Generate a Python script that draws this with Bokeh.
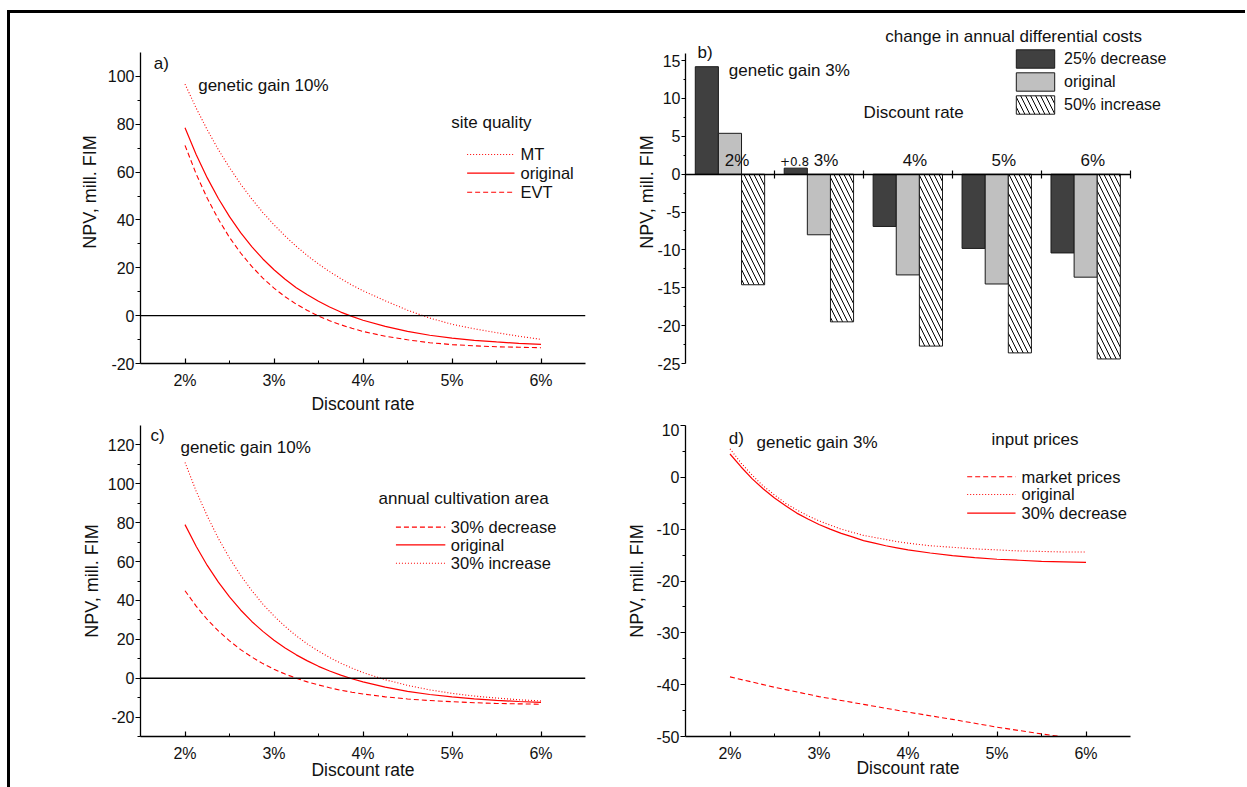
import numpy as np
from bokeh.plotting import figure
from bokeh.models import (Range1d, FixedTicker, Span, Label, Legend, LegendItem,
                          Div, Spacer)
from bokeh.layouts import row, column
from bokeh.embed import file_html
from bokeh.resources import INLINE
from bokeh.core.properties import value

FONT = "Liberation Sans"
RED = "#ff0000"
INK = "#111111"

# ---------------- data ----------------
rates = [2.0, 2.125, 2.25, 2.375, 2.5, 2.625, 2.75, 2.875, 3.0, 3.125, 3.25,
         3.375, 3.5, 3.625, 3.75, 3.875, 4.0, 4.25, 4.5, 4.75, 5.0, 5.25,
         5.5, 5.75, 6.0]
rates_coarse = [2.0, 2.5, 3.0, 3.5, 4.0, 4.5, 5.0, 5.5, 6.0]
rate_ticks = [2, 3, 4, 5, 6]
rate_labels = ["2%", "3%", "4%", "5%", "6%"]

# a) site quality, genetic gain 10%
a_mt = [96.8, 86.8, 77.7, 69.4, 61.9, 55.0, 48.8, 43.1, 38.0, 33.3, 29.0,
        25.1, 21.6, 18.4, 15.5, 12.8, 10.4, 6.2, 2.3, -1.0, -3.6, -5.5,
        -7.1, -8.6, -9.9]
a_original = [78.6, 67.4, 57.6, 49.0, 41.4, 34.7, 28.9, 23.7, 19.2, 15.2,
              11.7, 8.7, 6.0, 3.6, 1.5, -0.3, -1.9, -4.5, -6.6, -8.2, -9.4,
              -10.3, -11.0, -11.6, -12.0]
a_evt = [71.2, 59.3, 49.1, 40.3, 32.7, 26.2, 20.6, 15.7, 11.5, 7.9, 4.8, 2.2,
         -0.2, -2.1, -3.8, -5.3, -6.6, -8.6, -10.1, -11.3, -12.1, -12.6,
         -13.0, -13.2, -13.4]
a_series_labels = ["MT", "original", "EVT"]

# b) change in annual differential costs, genetic gain 3%
b_categories = ["2%", "3%", "4%", "5%", "6%"]
b_decrease25 = [14.2, 0.8, -6.9, -9.8, -10.4]
b_original = [5.4, -8.0, -13.3, -14.5, -13.6]
b_increase50 = [-14.6, -19.5, -22.7, -23.6, -24.4]
b_series_labels = ["25% decrease", "original", "50% increase"]

# c) annual cultivation area, genetic gain 10%
c_decrease30 = [45.0, 37.1, 30.2, 24.3, 19.2, 14.7, 10.9, 7.5, 4.6, 2.1, 0.0,
                -1.9, -3.5, -4.9, -6.2, -7.2, -8.1, -9.6, -10.7, -11.5,
                -12.1, -12.6, -13.0, -13.2, -13.4]
c_original = [79.0, 67.9, 58.0, 49.4, 41.8, 35.1, 29.2, 24.1, 19.5, 15.5,
              12.0, 8.9, 6.1, 3.7, 1.6, -0.3, -1.9, -4.6, -6.8, -8.4, -9.6,
              -10.6, -11.4, -12.0, -12.4]
c_increase30 = [111.0, 96.3, 83.4, 71.9, 61.8, 52.9, 45.1, 38.1, 32.0, 26.6,
                21.8, 17.6, 13.9, 10.6, 7.7, 5.2, 2.9, -0.8, -3.7, -6.0, -7.8,
                -9.2, -10.2, -11.1, -11.7]
c_series_labels = ["30% decrease", "original", "30% increase"]

# d) input prices, genetic gain 3%
d_market = [-38.5, -40.5, -42.3, -43.8, -45.3, -46.7, -48.2, -49.5, -50.7]
d_original = [5.5, 2.75, 0.4, -1.7, -3.4, -5.0, -6.3, -7.4, -8.4, -9.2,
              -10.0, -10.6, -11.2, -11.6, -12.0, -12.4, -12.7, -13.2, -13.5,
              -13.8, -14.0, -14.2, -14.3, -14.4, -14.4]
d_decrease30 = [4.5, 2.0, -0.3, -2.25, -4.0, -5.5, -6.9, -8.05, -9.1, -10.0,
                -10.8, -11.5, -12.2, -12.7, -13.2, -13.6, -14.0, -14.6, -15.1,
                -15.5, -15.8, -16.0, -16.2, -16.3, -16.4]
d_series_labels = ["market prices", "original", " 30% decrease"]

a_yticks = [-20, 0, 20, 40, 60, 80, 100]
b_yticks = [-25, -20, -15, -10, -5, 0, 5, 10, 15]
c_yticks = [-20, 0, 20, 40, 60, 80, 100, 120]
d_yticks = [-50, -40, -30, -20, -10, 0, 10]

YLABEL = "NPV, mill. FIM"
XLABEL = "Discount rate"

# ---------------- styles ----------------
SOLID = dict(line_color=RED, line_width=1.2)
DOTTED = dict(line_color=RED, line_width=1.1, line_dash="1 2")
DASHED = dict(line_color=RED, line_width=1.1, line_dash="5 3")


def make_fig(w, h, left, right, top, bottom, xr, yr):
    p = figure(width=w, height=h, x_range=Range1d(*xr), y_range=Range1d(*yr),
               output_backend="svg", toolbar_location=None, title=None,
               min_border_left=left, min_border_right=right,
               min_border_top=top, min_border_bottom=bottom)
    p.grid.visible = False
    p.outline_line_color = None
    p.background_fill_color = "white"
    p.border_fill_color = "white"
    for ax in p.axis:
        ax.axis_line_color = "black"
        ax.axis_line_width = 1.3
        ax.major_tick_line_color = "black"
        ax.minor_tick_line_color = "black"
        ax.major_tick_line_width = 1.2
        ax.major_label_text_font = FONT
        ax.major_label_text_font_size = "16px"
        ax.major_label_text_color = INK
        ax.axis_label_text_font = FONT
        ax.axis_label_text_font_style = "normal"
        ax.axis_label_text_color = INK
    return p


def style_y(p, ticks, minor, label_standoff, bounds=None):
    y = p.yaxis[0]
    y.ticker = FixedTicker(ticks=ticks, minor_ticks=minor)
    y.major_label_overrides = {t: str(t) for t in ticks}
    y.major_tick_in = 0
    y.major_tick_out = 5
    y.minor_tick_in = 0
    y.minor_tick_out = 3
    y.major_label_standoff = 1
    y.axis_label = YLABEL
    y.axis_label_text_font_size = "18px"
    y.axis_label_standoff = label_standoff
    if bounds is not None:
        y.bounds = bounds


def style_x_rates(p, label_standoff):
    x = p.xaxis[0]
    minor = [t + 0.5 for t in rate_ticks[:-1]]
    x.ticker = FixedTicker(ticks=rate_ticks, minor_ticks=minor)
    x.major_label_overrides = dict(zip(rate_ticks, rate_labels))
    x.major_tick_in = 5
    x.major_tick_out = 0
    x.minor_tick_in = 3
    x.minor_tick_out = 0
    x.major_label_standoff = 8
    x.axis_label = XLABEL
    x.axis_label_text_font_size = "17.5px"
    x.axis_label_standoff = label_standoff


def add_text(p, x, y, text, size="17px"):
    p.add_layout(Label(x=x, y=y, text=text, text_font=FONT,
                       text_font_size=size, text_color=INK,
                       text_baseline="middle", text_align="left"))


def key_legend(p, labels, styles, key_x0, key_x1, label_x, row_ys):
    """Legend drawn as short sample lines with labels beside them."""
    for lab, st, y in zip(labels, styles, row_ys):
        p.segment(x0=[key_x0], y0=[y], x1=[key_x1], y1=[y], **st)
        add_text(p, label_x, y, lab, size="16.5px")


zero_line = dict(location=0, dimension="width", line_color="black",
                 line_width=1.4)

ROW1_H = 410
ROW2_H = 364

# ---------------- panel a ----------------
pa = make_fig(610, ROW1_H, 130, 35, 7, 60, (1.5, 6.5), (-20, 123.4))
style_y(pa, a_yticks, [t + 10 for t in a_yticks[:-1]], 5, bounds=(-20, 110))
style_x_rates(pa, 2)
pa.add_layout(Span(**zero_line))
pa.line(rates, a_mt, **DOTTED)
pa.line(rates, a_original, **SOLID)
pa.line(rates, a_evt, **DASHED)
add_text(pa, 1.65, 105.4, "a)")
add_text(pa, 2.148, 96.2, "genetic gain 10%")
add_text(pa, 4.992, 80.75, "site quality")
key_legend(pa, a_series_labels, [DOTTED, SOLID, DASHED],
           5.170, 5.702, 5.770, [67.4, 59.6, 51.6])

# ---------------- panel b ----------------
pb = make_fig(625, ROW1_H, 65, 62, 7, 60, (0, 5.6), (-25, 20.3))
style_y(pb, b_yticks, [t + 2.5 for t in b_yticks[:-1]], -3, bounds=(-25, 16))
pb.yaxis[0].major_tick_out = 4
pb.yaxis[0].minor_tick_out = 2
bx = pb.xaxis[0]
bx.fixed_location = 0
bx.bounds = (0, len(b_categories))
bx.ticker = FixedTicker(ticks=list(range(1, len(b_categories) + 1)), minor_ticks=[])
bx.major_tick_in = 4
bx.major_tick_out = 4
bx.major_label_text_font_size = "0px"
bx.major_label_text_alpha = 0

idx = np.arange(len(b_categories))
bw = 0.26
rb1 = pb.vbar(x=idx + 0.24, top=b_decrease25, bottom=0, width=bw,
              fill_color="#404040", line_color="#1a1a1a", line_width=1)
rb2 = pb.vbar(x=idx + 0.50, top=b_original, bottom=0, width=bw,
              fill_color="#c0c0c0", line_color="#1a1a1a", line_width=1)
rb3 = pb.vbar(x=idx + 0.76, top=b_increase50, bottom=0, width=bw,
              fill_color="white", line_color="#1a1a1a", line_width=1,
              hatch_pattern="left_diagonal_line", hatch_color="black",
              hatch_scale=10, hatch_weight=1)
pb.text(x=idx + 0.58, y=1.86, text=b_categories, text_font=value(FONT),
        text_font_size="17px", text_color=INK, text_baseline="middle",
        text_align="center")
pb.add_layout(Label(x=1.062, y=1.64, text="+%.1f" % b_decrease25[1],
                    text_font="DejaVu Sans", text_font_size="12px",
                    text_color=INK, text_baseline="middle", text_align="left"))
add_text(pb, 0.135, 16.13, "b)")
add_text(pb, 0.487, 13.76, "genetic gain 3%")
add_text(pb, 2.247, 18.16, "change in annual differential costs")
add_text(pb, 2.003, 8.11, "Discount rate")
leg_b = Legend(items=[LegendItem(label=lab, renderers=[r]) for lab, r in
                      zip(b_series_labels, [rb1, rb2, rb3])],
               location=(326, 247), orientation="vertical",
               glyph_width=48, glyph_height=23, label_height=23, spacing=-4,
               padding=0, margin=0, label_standoff=5,
               label_text_font=FONT, label_text_font_size="16px",
               label_text_color=INK, border_line_alpha=0,
               background_fill_alpha=0)
pb.add_layout(leg_b)

# ---------------- panel c ----------------
pc = make_fig(610, ROW2_H, 130, 35, 2, 51, (1.5, 6.5), (-30, 130))
style_y(pc, c_yticks, [t + 10 for t in c_yticks[:-1]] + [-30], 3)
style_x_rates(pc, -5)
pc.add_layout(Span(**zero_line))
pc.line(rates, c_decrease30, **DASHED)
pc.line(rates, c_original, **SOLID)
pc.line(rates, c_increase30, **DOTTED)
add_text(pc, 1.612, 124.8, "c)")
add_text(pc, 1.949, 118.8, "genetic gain 10%")
add_text(pc, 4.174, 92.3, "annual cultivation area")
key_legend(pc, c_series_labels, [DASHED, SOLID, DOTTED],
           4.370, 4.925, 4.987, [77.7, 68.6, 59.15])

# ---------------- panel d ----------------
pd_ = make_fig(625, ROW2_H, 65, 115, 2, 51, (1.5, 6.5), (-50, 10))
style_y(pd_, d_yticks, [t + 5 for t in d_yticks[:-1]], 6)
style_x_rates(pd_, -7)
pd_.line(rates_coarse, d_market, **DASHED)
pd_.line(rates, d_original, **DOTTED)
pd_.line(rates, d_decrease30, **SOLID)
add_text(pd_, 1.987, 7.44, "d)")
add_text(pd_, 2.299, 6.78, "genetic gain 3%")
add_text(pd_, 4.939, 7.25, "input prices")
key_legend(pd_, d_series_labels, [DASHED, DOTTED, SOLID],
           4.665, 5.208, 5.275, [0.1, -3.3, -6.9])

# ---------------- page frame & layout ----------------
top_bar = Div(text="", width=1238, height=3, margin=(0, 0, 0, 0),
              styles={"background-color": "black"})
left_bar = Div(text="", width=3, height=ROW1_H + ROW2_H, margin=(0, 0, 0, 0),
               styles={"background-color": "black"})
grid = column(row(pa, pb), row(pc, pd_))
page = column(Spacer(width=1, height=10),
              row(Spacer(width=7, height=1),
                  column(top_bar, row(left_bar, grid))))

open("out.html", "w").write(file_html(page, INLINE))
